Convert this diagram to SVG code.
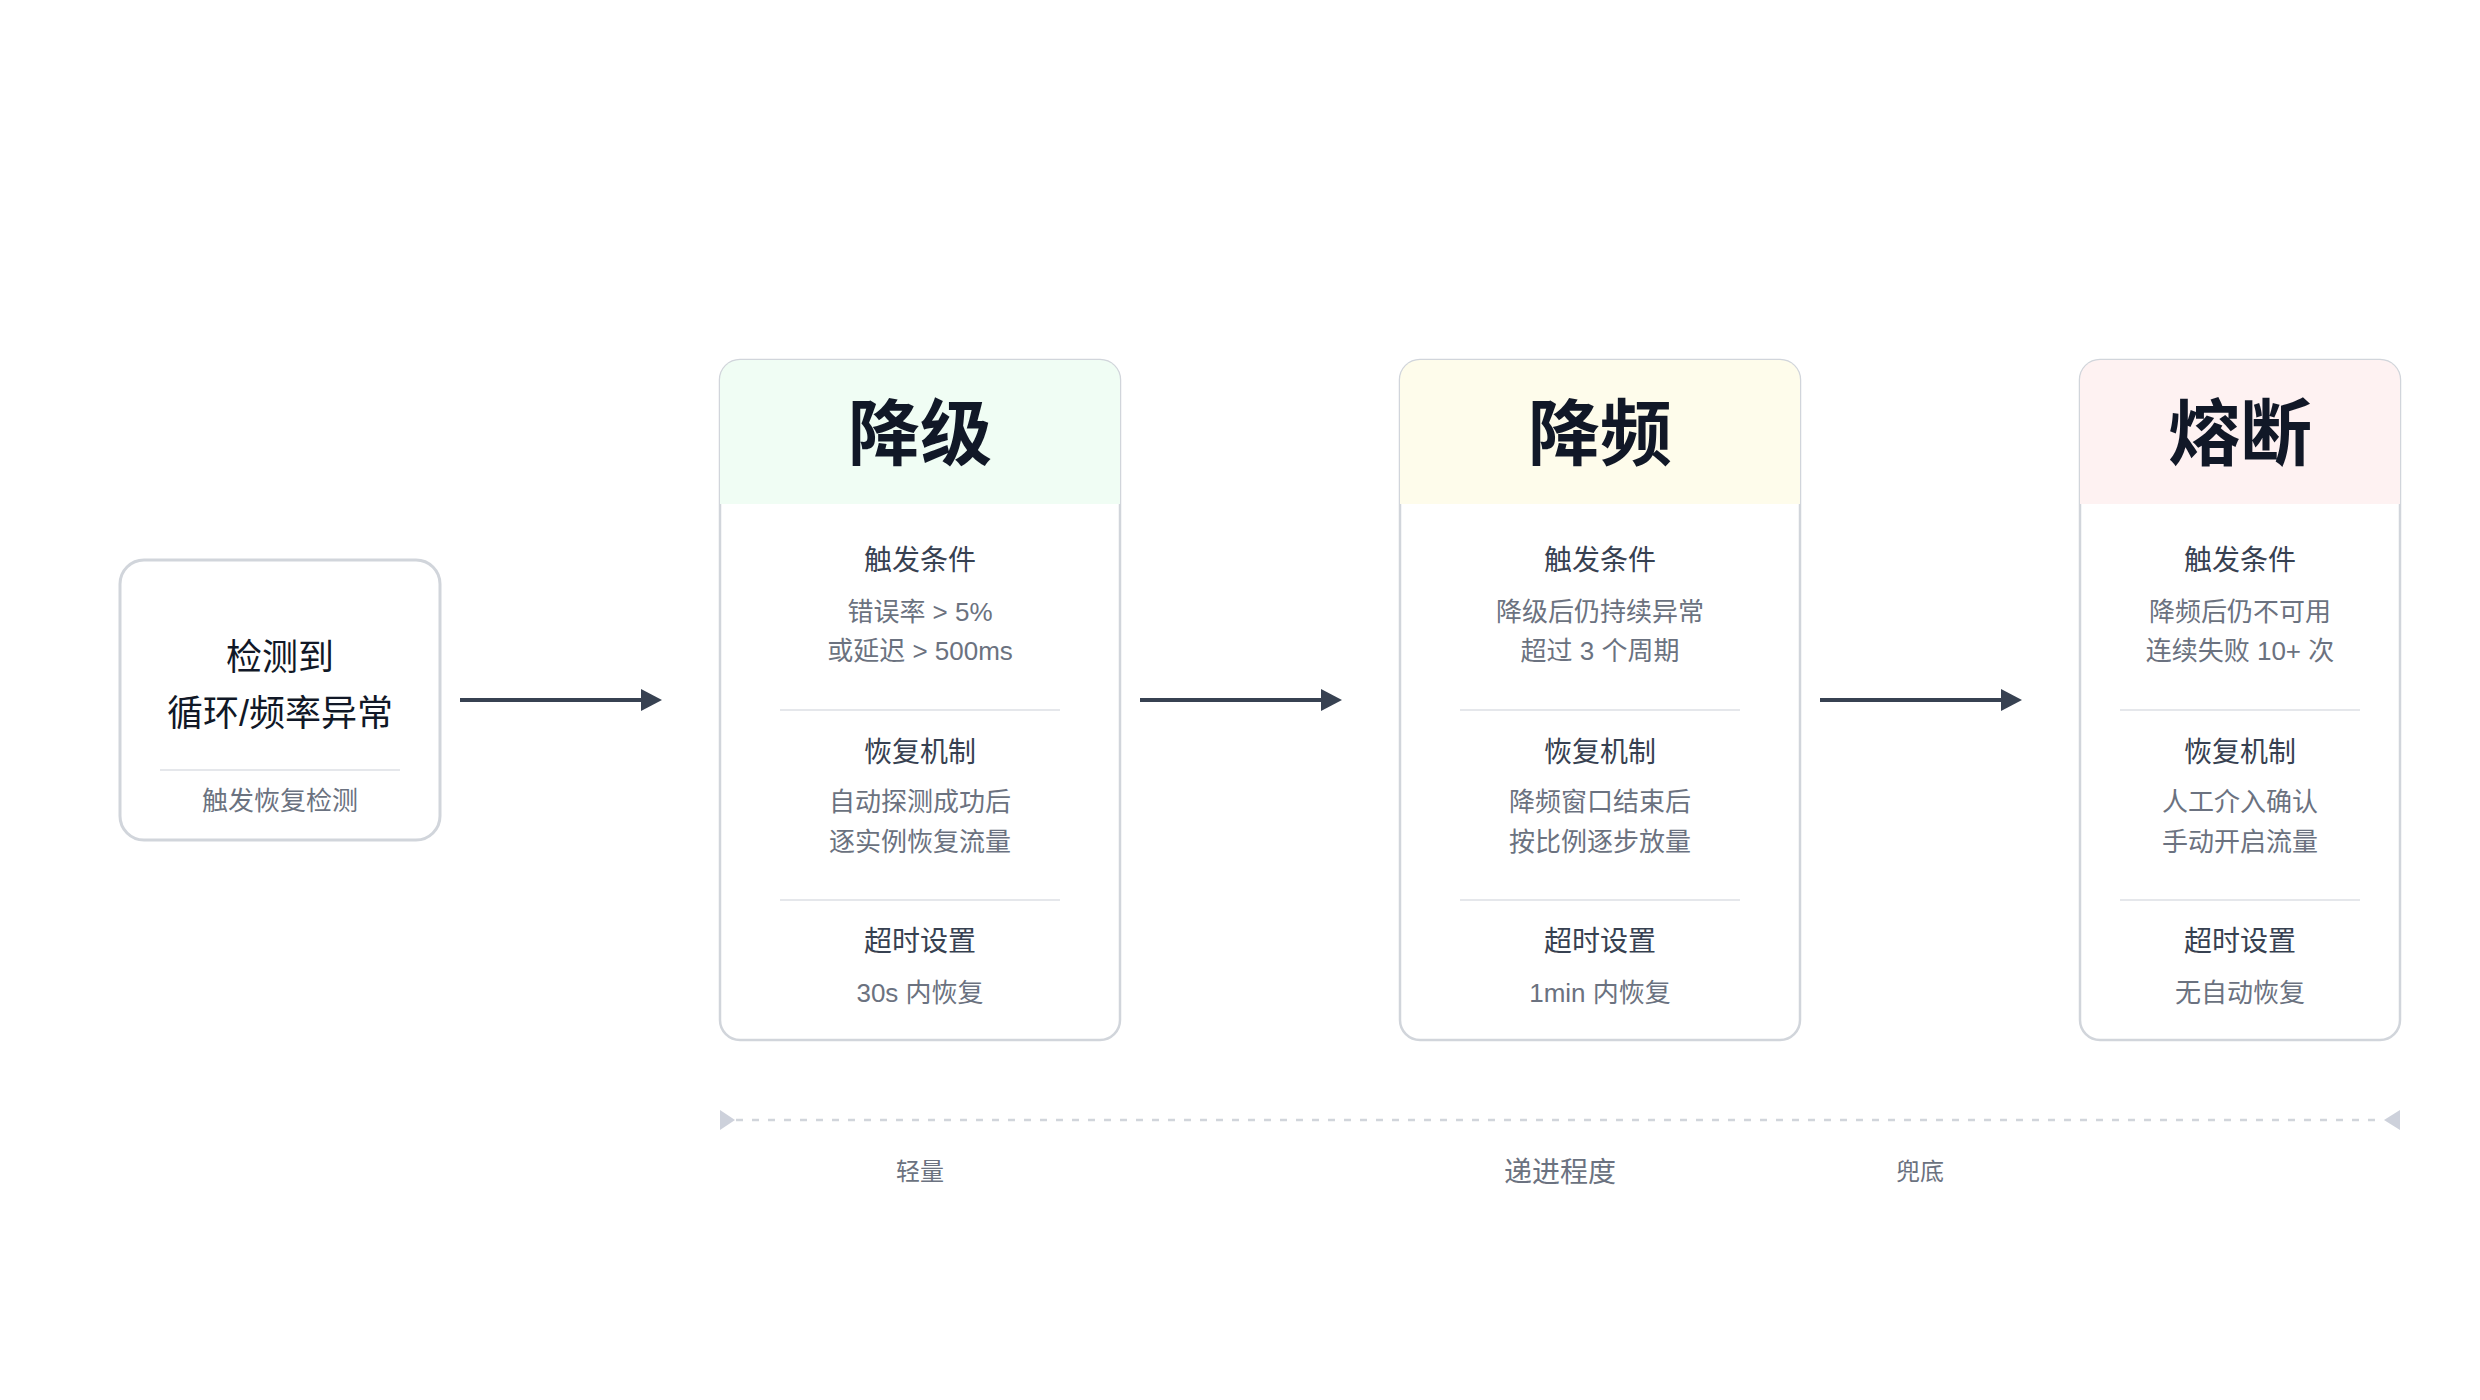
<svg xmlns="http://www.w3.org/2000/svg" width="2480" height="1400" viewBox="0 0 2480 1400">
  <defs>
    <style>
      text { font-family: "Liberation Sans", "Noto Sans CJK SC", sans-serif; text-anchor: middle; }
      .box { fill: #FFFFFF; stroke: #D1D5DB; stroke-width: 3; }
      .card { fill: #FFFFFF; stroke: #D1D5DB; stroke-width: 2.5; }
      .div { stroke: #E5E7EB; stroke-width: 2; }
      .title { font-size: 72px; font-weight: 700; fill: #111827; }
      .head { font-size: 28px; fill: #374151; }
      .body { font-size: 26px; fill: #6B7280; }
      .main { font-size: 36px; fill: #111827; }
      .axislabel { font-size: 24px; fill: #6B7280; }
      .axistitle { font-size: 28px; fill: #6B7280; }
      .edge { stroke: #374151; stroke-width: 4; fill: none; }
      .head-tri { fill: #374151; }
    </style>
  </defs>

  <g id="node-detect">
    <rect class="box" x="120" y="560" width="320" height="280" rx="24"/>
    <text class="main" x="280" y="670">检测到</text>
    <text class="main" x="280" y="726">循环/频率异常</text>
    <line class="div" x1="160" y1="770" x2="400" y2="770"/>
    <text class="body" x="280" y="810">触发恢复检测</text>
  </g>

  <g id="node-degrade">
    <rect class="card" x="720" y="360" width="400" height="680" rx="20"/>
    <path d="M720,504 V380 A20,20 0 0 1 740,360 H1100 A20,20 0 0 1 1120,380 V504 Z" fill="#F0FDF4"/>
    <text class="title" x="920" y="459">降级</text>
    <text class="head" x="920" y="570">触发条件</text>
    <text class="body" x="920" y="621">错误率 &gt; 5%</text>
    <text class="body" x="920" y="660">或延迟 &gt; 500ms</text>
    <line class="div" x1="780" y1="710" x2="1060" y2="710"/>
    <text class="head" x="920" y="762">恢复机制</text>
    <text class="body" x="920" y="811">自动探测成功后</text>
    <text class="body" x="920" y="851">逐实例恢复流量</text>
    <line class="div" x1="780" y1="900" x2="1060" y2="900"/>
    <text class="head" x="920" y="951">超时设置</text>
    <text class="body" x="920" y="1002">30s 内恢复</text>
  </g>

  <g id="node-throttle">
    <rect class="card" x="1400" y="360" width="400" height="680" rx="20"/>
    <path d="M1400,504 V380 A20,20 0 0 1 1420,360 H1780 A20,20 0 0 1 1800,380 V504 Z" fill="#FEFCEB"/>
    <text class="title" x="1600" y="459">降频</text>
    <text class="head" x="1600" y="570">触发条件</text>
    <text class="body" x="1600" y="621">降级后仍持续异常</text>
    <text class="body" x="1600" y="660">超过 3 个周期</text>
    <line class="div" x1="1460" y1="710" x2="1740" y2="710"/>
    <text class="head" x="1600" y="762">恢复机制</text>
    <text class="body" x="1600" y="811">降频窗口结束后</text>
    <text class="body" x="1600" y="851">按比例逐步放量</text>
    <line class="div" x1="1460" y1="900" x2="1740" y2="900"/>
    <text class="head" x="1600" y="951">超时设置</text>
    <text class="body" x="1600" y="1002">1min 内恢复</text>
  </g>

  <g id="node-break">
    <rect class="card" x="2080" y="360" width="320" height="680" rx="20"/>
    <path d="M2080,504 V380 A20,20 0 0 1 2100,360 H2380 A20,20 0 0 1 2400,380 V504 Z" fill="#FEF2F2"/>
    <text class="title" x="2240" y="459">熔断</text>
    <text class="head" x="2240" y="570">触发条件</text>
    <text class="body" x="2240" y="621">降频后仍不可用</text>
    <text class="body" x="2240" y="660">连续失败 10+ 次</text>
    <line class="div" x1="2120" y1="710" x2="2360" y2="710"/>
    <text class="head" x="2240" y="762">恢复机制</text>
    <text class="body" x="2240" y="811">人工介入确认</text>
    <text class="body" x="2240" y="851">手动开启流量</text>
    <line class="div" x1="2120" y1="900" x2="2360" y2="900"/>
    <text class="head" x="2240" y="951">超时设置</text>
    <text class="body" x="2240" y="1002">无自动恢复</text>
  </g>

  <g id="connectors">
    <line class="edge" x1="460" y1="700" x2="644" y2="700"/>
    <polygon class="head-tri" points="641,689 662,700 641,711"/>
    <line class="edge" x1="1140" y1="700" x2="1324" y2="700"/>
    <polygon class="head-tri" points="1321,689 1342,700 1321,711"/>
    <line class="edge" x1="1820" y1="700" x2="2004" y2="700"/>
    <polygon class="head-tri" points="2001,689 2022,700 2001,711"/>
  </g>

  <g id="axis">
    <line x1="736" y1="1120" x2="2384" y2="1120" stroke="#D1D5DB" stroke-width="2.5" stroke-dasharray="7 9"/>
    <polygon points="720,1110 735,1120 720,1130" fill="#CDD1DB"/>
    <polygon points="2400,1110 2384,1120 2400,1130" fill="#CDD1DB"/>
    <text class="axislabel" x="920" y="1180">轻量</text>
    <text class="axistitle" x="1560" y="1182">递进程度</text>
    <text class="axislabel" x="1920" y="1180">兜底</text>
  </g>
</svg>
